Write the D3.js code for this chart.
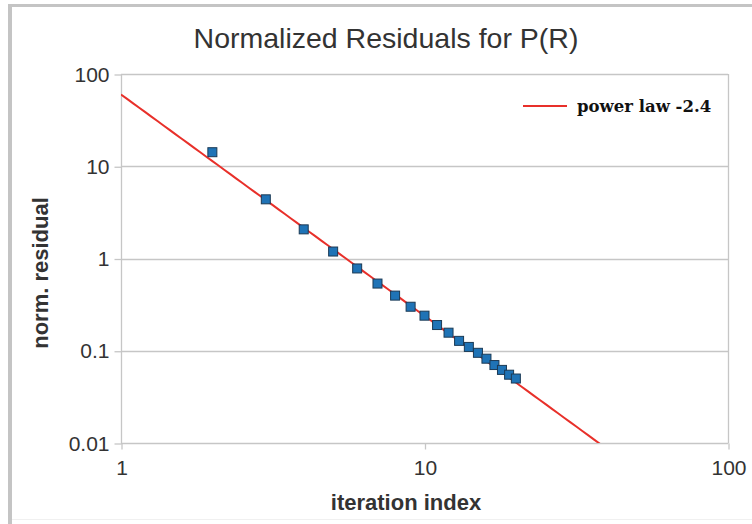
<!DOCTYPE html>
<html>
<head>
<meta charset="utf-8">
<script src="https://cdn.jsdelivr.net/npm/d3@7"></script>
<style>
  html, body { margin: 0; padding: 0; background: #fff; }
  svg { display: block; }
</style>
</head>
<body>
<svg id="chart" width="752" height="524"></svg>
<script>
// Iteration index and the normalized residual at each iteration
const iterations = [2, 3, 4, 5, 6, 7, 8, 9, 10, 11, 12, 13, 14, 15, 16, 17, 18, 19, 20];
const residuals = [14.2, 4.38, 2.07, 1.19, 0.78, 0.535, 0.396, 0.30, 0.24, 0.19, 0.157, 0.128, 0.110, 0.095, 0.082, 0.070, 0.062, 0.055, 0.050];

// Fitted power law: residual = coef * n^exponent
const powerCoef = 60;
const powerExponent = -2.4;
const fitRange = [1, 100];

const xTicks = [1, 10, 100];
const yTicks = [0.01, 0.1, 1, 10, 100];
const yTickLabels = ["0.01", "0.1", "1", "10", "100"];
const xTickLabels = ["1", "10", "100"];

const svg = d3.select("#chart");
const W = 752, H = 524;

// Outer frame
svg.append("rect").attr("x", 0).attr("y", 0).attr("width", W).attr("height", H).attr("fill", "#fff");
svg.append("rect").attr("x", 8).attr("y", 4).attr("width", W - 8).attr("height", 3).attr("fill", "#c4c4c4");
svg.append("rect").attr("x", 8).attr("y", 4).attr("width", 4).attr("height", H - 4).attr("fill", "#c4c4c4");
svg.append("line").attr("x1", 12).attr("x2", W).attr("y1", 519.5).attr("y2", 519.5)
  .attr("stroke", "#f0f0f0").attr("stroke-width", 1);

const plot = { left: 121, right: 728, top: 74, bottom: 443 };

const x = d3.scaleLog().domain([1, 100]).range([plot.left, plot.right]);
const y = d3.scaleLog().domain([0.01, 100]).range([plot.bottom, plot.top]);

const gridColor = "#c6c6c6";
const sans = "Liberation Sans, Arial, sans-serif";

// Horizontal gridlines
svg.append("g").selectAll("line").data(yTicks).join("line")
  .attr("x1", plot.left).attr("x2", plot.right)
  .attr("y1", d => Math.round(y(d)) + 0.5).attr("y2", d => Math.round(y(d)) + 0.5)
  .attr("stroke", gridColor).attr("stroke-width", 1.3);

// Plot border (left, right)
svg.append("line").attr("x1", plot.left + 0.5).attr("x2", plot.left + 0.5)
  .attr("y1", plot.top).attr("y2", plot.bottom + 0.5).attr("stroke", gridColor).attr("stroke-width", 1.3);
svg.append("line").attr("x1", plot.right + 0.5).attr("x2", plot.right + 0.5)
  .attr("y1", plot.top).attr("y2", plot.bottom + 0.5).attr("stroke", gridColor).attr("stroke-width", 1.3);

// Y axis
const yAxis = d3.axisLeft(y).tickValues(yTicks).tickSize(7).tickPadding(5)
  .tickFormat((d, i) => yTickLabels[i]);
const gy = svg.append("g").attr("transform", `translate(${plot.left + 0.5},0.5)`).call(yAxis);
gy.select(".domain").remove();
gy.selectAll(".tick line").attr("stroke", gridColor).attr("stroke-width", 1.3);
gy.selectAll(".tick text").attr("font-family", sans)
  .attr("font-size", 21).attr("fill", "#333");

// X axis
const xAxis = d3.axisBottom(x).tickValues(xTicks).tickSize(6).tickPadding(11)
  .tickFormat((d, i) => xTickLabels[i]);
const gx = svg.append("g").attr("transform", `translate(0.5,${plot.bottom + 0.5})`).call(xAxis);
gx.select(".domain").remove();
gx.selectAll(".tick line").attr("stroke", gridColor).attr("stroke-width", 1.3);
gx.selectAll(".tick text").attr("font-family", sans)
  .attr("font-size", 21).attr("fill", "#333");

// Power-law fit, clipped to the plot area
svg.append("clipPath").attr("id", "plotclip").append("rect")
  .attr("x", plot.left).attr("y", plot.top).attr("width", plot.right - plot.left).attr("height", plot.bottom - plot.top);

const fitN = d3.range(0, 101).map(i => fitRange[0] * Math.pow(fitRange[1] / fitRange[0], i / 100));
const fitLine = d3.line().x(d => x(d)).y(d => y(powerCoef * Math.pow(d, powerExponent)));
svg.append("path").datum(fitN)
  .attr("clip-path", "url(#plotclip)")
  .attr("d", fitLine)
  .attr("fill", "none").attr("stroke", "#e8302a").attr("stroke-width", 2);

// Residual markers
const ms = 9;
svg.append("g").selectAll("rect").data(iterations).join("rect")
  .attr("x", (d) => x(d) - ms / 2)
  .attr("y", (d, i) => y(residuals[i]) - ms / 2)
  .attr("width", ms).attr("height", ms)
  .attr("fill", "#1f73b6").attr("stroke", "#1b3a55").attr("stroke-width", 1);

// Title
svg.append("text").attr("x", 386).attr("y", 48).attr("text-anchor", "middle")
  .attr("font-family", sans).attr("font-size", 28.5)
  .attr("fill", "#333").text("Normalized Residuals for P(R)");

// Axis titles
svg.append("text").attr("x", 406).attr("y", 510).attr("text-anchor", "middle")
  .attr("font-family", sans).attr("font-size", 22)
  .attr("font-weight", "bold").attr("fill", "#333").text("iteration index");
svg.append("text").attr("transform", "translate(48,273) rotate(-90)").attr("text-anchor", "middle")
  .attr("font-family", sans).attr("font-size", 22)
  .attr("font-weight", "bold").attr("fill", "#333").text("norm. residual");

// Legend
svg.append("line").attr("x1", 523).attr("x2", 567).attr("y1", 106).attr("y2", 106)
  .attr("stroke", "#e8302a").attr("stroke-width", 2);
svg.append("text").attr("x", 577).attr("y", 112)
  .attr("font-family", "DejaVu Serif, serif").attr("font-size", 16.5).attr("font-weight", "bold")
  .attr("fill", "#111").text("power law -2.4");
</script>
</body>
</html>
